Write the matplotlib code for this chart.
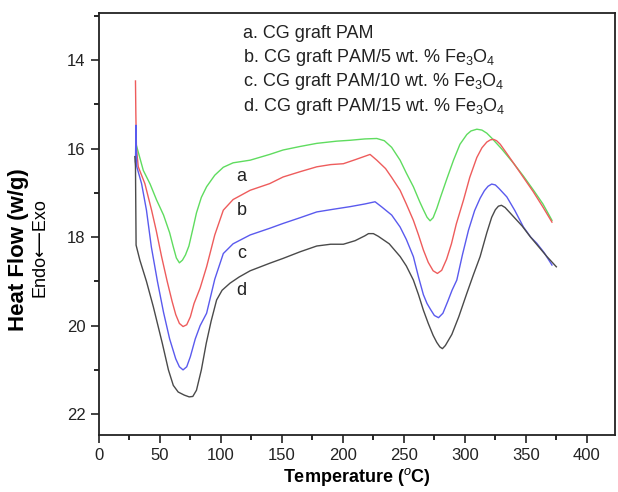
import numpy as np
import matplotlib
matplotlib.use('Agg')
import matplotlib.pyplot as plt
from matplotlib.ticker import MultipleLocator

matplotlib.rcParams['font.family'] = ['Liberation Sans', 'DejaVu Sans']
matplotlib.rcParams['mathtext.fontset'] = 'custom'
matplotlib.rcParams['mathtext.rm'] = 'Liberation Sans'
matplotlib.rcParams['mathtext.it'] = 'Liberation Sans:italic'
matplotlib.rcParams['mathtext.bf'] = 'Liberation Sans:bold'

# DSC curves (temperature in C, heat flow in w/g)
t_a = [30.5, 31, 36.4, 42, 47.3, 53, 58, 61, 63.5, 66, 68.5, 71, 73.8, 77.4, 80, 84,
       88.3, 95, 102, 110, 124, 140, 151, 165, 178.6, 195, 206, 218, 227.8, 234, 240,
       246.9, 252, 257.8, 263, 266, 269, 271.5, 274, 277, 280, 285, 290.7, 296, 301.6,
       305, 309.8, 314, 318, 322, 330, 339.9, 348, 356.3, 364, 371.4]
h_a = [15.9, 15.95, 16.49, 16.8, 17.16, 17.5, 17.9, 18.22, 18.47, 18.58, 18.52, 18.4,
       18.2, 17.77, 17.45, 17.1, 16.86, 16.6, 16.42, 16.32, 16.26, 16.13, 16.03, 15.95,
       15.88, 15.83, 15.81, 15.78, 15.77, 15.82, 15.97, 16.26, 16.55, 16.86, 17.2,
       17.38, 17.55, 17.63, 17.56, 17.35, 17.1, 16.7, 16.26, 15.9, 15.68, 15.6, 15.56,
       15.58, 15.65, 15.76, 16.0, 16.33, 16.62, 16.94, 17.25, 17.62]

t_b = [30.0, 30.3, 30.8, 32.3, 37.7, 43.2, 47, 51.4, 56, 60, 63, 66, 69, 72, 75, 78,
       83, 88.3, 95, 102, 110, 124, 140, 151, 165, 178.6, 190, 200.4, 210, 222.3, 227.8,
       235, 240, 246.9, 252, 257.8, 262, 266, 270, 274, 277.5, 281, 285, 289, 293,
       298.9, 304, 309.8, 314, 318, 321, 323.5, 326, 329, 334.4, 340, 348, 356, 364,
       371.4]
h_b = [14.47, 15.2, 16.0, 16.41, 16.79, 17.39, 17.85, 18.44, 19.0, 19.45, 19.75, 19.95,
       20.02, 19.98, 19.8, 19.5, 19.15, 18.67, 17.95, 17.39, 17.15, 16.94, 16.79, 16.64,
       16.52, 16.41, 16.36, 16.34, 16.25, 16.13, 16.26, 16.45, 16.65, 16.94, 17.25,
       17.62, 17.95, 18.29, 18.57, 18.76, 18.82, 18.75, 18.5, 18.15, 17.7, 17.16, 16.65,
       16.2, 15.98, 15.85, 15.8, 15.79, 15.82, 15.9, 16.11, 16.33, 16.65, 16.97, 17.32,
       17.66]

t_c = [30.0, 30.4, 31, 35, 39, 43, 48, 53, 58, 63, 66, 69, 72, 75, 79, 83, 88.3, 95,
       102, 110, 124, 140, 151, 165, 178.6, 192, 206, 218, 226.4, 232, 240, 246.9, 252,
       257.8, 262, 266, 269, 272, 275, 278.4, 282, 286, 289.5, 293.4, 298, 303, 308,
       312.5, 316, 319, 322, 325, 328, 334.4, 341, 348, 354, 359, 365, 371.4]
h_c = [16.3, 15.47, 16.4, 16.79, 17.39, 18.22, 19.0, 19.7, 20.3, 20.75, 20.93, 21.0,
       20.93, 20.7, 20.3, 20.0, 19.72, 18.95, 18.37, 18.15, 17.95, 17.8, 17.69, 17.56,
       17.43, 17.37, 17.31, 17.25, 17.2, 17.32, 17.5, 17.77, 18.05, 18.44, 18.9, 19.3,
       19.5, 19.64, 19.77, 19.82, 19.72, 19.45, 19.2, 18.97, 18.4, 17.84, 17.4, 17.12,
       16.95, 16.85, 16.8, 16.82, 16.9, 17.09, 17.4, 17.77, 18.0, 18.14, 18.35, 18.63]

t_d = [29.5, 30.0, 30.5, 33.6, 39, 44.6, 52, 57, 61, 65, 70, 74, 77, 80, 84, 88, 92,
       96.5, 101, 107.5, 115, 124, 140, 151, 165, 178.6, 190, 200.4, 210, 218, 221,
       225, 229, 238, 247, 252, 257.8, 262, 266, 270, 274, 277, 279.5, 281.6, 284,
       289.3, 295, 301.6, 307, 312.5, 318, 322, 325, 327.5, 330, 333, 337, 340, 347,
       353.6, 360, 367.3, 375]
h_d = [16.18, 16.4, 18.18, 18.52, 19.0, 19.57, 20.4, 21.0, 21.35, 21.5, 21.57, 21.61,
       21.6, 21.46, 21.0, 20.4, 19.9, 19.42, 19.2, 19.04, 18.9, 18.76, 18.59, 18.48,
       18.33, 18.2, 18.16, 18.16, 18.08, 17.97, 17.92, 17.92, 17.98, 18.15, 18.44,
       18.65, 18.97, 19.3, 19.65, 19.95, 20.22, 20.38, 20.48, 20.52, 20.45, 20.2, 19.8,
       19.27, 18.85, 18.44, 17.9, 17.55, 17.38, 17.3, 17.28, 17.33, 17.45, 17.54,
       17.75, 17.99, 18.2, 18.44, 18.67]

curve_tags = ['a', 'b', 'c', 'd']
tag_y = [16.64, 17.39, 18.36, 19.2]
legend_lines = ['a. CG graft PAM',
                'b. CG graft PAM/5 wt. % Fe$_3$O$_4$',
                'c. CG graft PAM/10 wt. % Fe$_3$O$_4$',
                'd. CG graft PAM/15 wt. % Fe$_3$O$_4$']

fig = plt.figure(figsize=(6.18, 4.92), dpi=100, facecolor='white')
ax = fig.add_axes([0.160, 0.116, 0.835, 0.857])

ax.plot(t_a, h_a, color='#5fdc5f', lw=1.0)
ax.plot(t_b, h_b, color='#ee5c5c', lw=1.0)
ax.plot(t_c, h_c, color='#5a5aee', lw=1.0)
ax.plot(t_d, h_d, color='#4a4a4a', lw=1.0)

for tag, y in zip(curve_tags, tag_y):
    ax.text(117, y, tag, fontsize=13, ha='center', va='center', color='#222222')

for i, s in enumerate(legend_lines):
    fig.text(243 / 618, 1 - (37.7 + 24.4 * i) / 492, s, fontsize=13,
             ha='left', va='baseline', color='#222222')

ax.set_xlim(0, 423)
ax.set_ylim(22.47, 12.94)
ax.xaxis.set_major_locator(MultipleLocator(50))
ax.xaxis.set_minor_locator(MultipleLocator(25))
ax.yaxis.set_major_locator(MultipleLocator(2))
ax.yaxis.set_minor_locator(MultipleLocator(1))
ax.tick_params(which='major', direction='out', length=6, width=1.2, labelsize=12,
               colors='#222222', top=False, right=False)
ax.tick_params(which='minor', direction='out', length=3.5, width=1.2,
               top=False, right=False)
for sp in ax.spines.values():
    sp.set_linewidth(1.3)
    sp.set_color('#222222')

ax.set_xlabel('Temperature ($^{o}$C)', fontsize=13, fontweight='bold', labelpad=2)
fig.text(19 / 618, 1 - 250 / 492, 'Heat Flow (w/g)', rotation=90, fontsize=16,
         fontweight='bold', ha='center', va='center')
fig.text(40 / 618, 1 - 248 / 492, 'Endo\u27f5Exo', rotation=90, fontsize=13,
         ha='center', va='center')

plt.savefig('out.png', dpi=100)
